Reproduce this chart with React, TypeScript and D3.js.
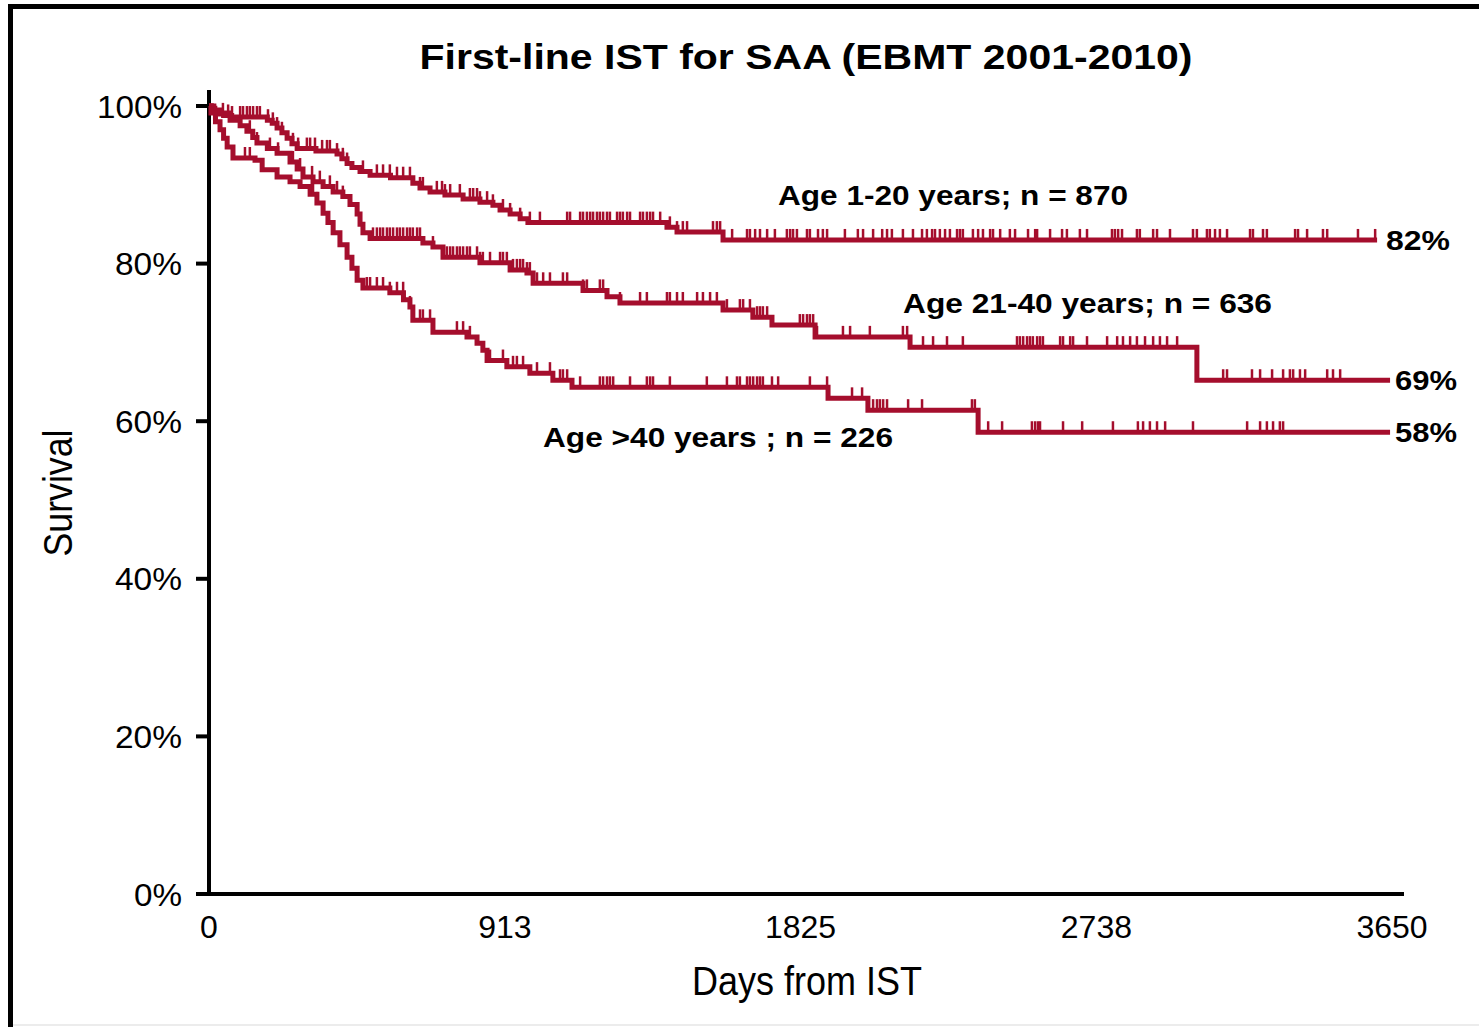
import React from "react";
import * as d3 from "d3";

const title = "First-line IST for SAA (EBMT 2001-2010)";
const xTicks = [0, 913, 1825, 2738, 3650];
const yTicks = [0, 20, 40, 60, 80, 100];

// Kaplan-Meier steps: [day, survival % after the step]
const age1to20Steps: [number, number][] = [
  [0, 100], [8, 99.7], [18, 99.4], [30, 99.0], [45, 98.8], [70, 98.6], [180, 98.2], [195, 97.8],
  [210, 97.2], [225, 96.6], [241, 95.9], [256, 95.2], [272, 94.6], [330, 94.3], [395, 93.9],
  [410, 93.3], [426, 92.7], [441, 92.2], [466, 91.7], [497, 91.2], [560, 90.9], [629, 90.2],
  [651, 89.6], [682, 89.1], [728, 88.7], [784, 88.2], [836, 87.8], [876, 87.4], [898, 86.8],
  [929, 86.3], [960, 85.7], [984, 85.2], [1413, 84.6], [1444, 84.0], [1586, 83.0],
];
const age1to20End = 3604;
const age1to20Censor = [
  43, 59, 71, 96, 105, 117, 126, 136, 148, 157, 182, 197, 210, 225, 259, 275, 302, 312, 327, 349,
  364, 373, 395, 413, 426, 475, 518, 537, 558, 580, 599, 620, 651, 660, 703, 719, 728, 744, 774,
  805, 815, 827, 836, 858, 876, 907, 929, 960, 990, 1021, 1105, 1114, 1145, 1154, 1166, 1176, 1185,
  1197, 1206, 1216, 1228, 1237, 1259, 1268, 1277, 1290, 1299, 1330, 1339, 1351, 1361, 1370, 1392,
  1422, 1444, 1462, 1475, 1555, 1567, 1577, 1614, 1660, 1669, 1685, 1700, 1722, 1746, 1783, 1793,
  1802, 1814, 1845, 1854, 1879, 1894, 1907, 1962, 2002, 2018, 2049, 2077, 2092, 2107, 2141, 2172,
  2200, 2215, 2231, 2240, 2255, 2271, 2286, 2308, 2317, 2326, 2357, 2373, 2388, 2410, 2419, 2441,
  2471, 2487, 2527, 2549, 2555, 2595, 2632, 2647, 2687, 2709, 2786, 2795, 2805, 2817, 2863, 2872,
  2913, 2925, 2965, 3036, 3048, 3079, 3088, 3104, 3119, 3141, 3212, 3221, 3252, 3264, 3351, 3360,
  3388, 3437, 3450, 3545, 3598,
];

const age21to40Steps: [number, number][] = [
  [0, 100], [15, 99.5], [34, 99.1], [65, 98.2], [96, 97.5], [117, 96.8], [135, 96.0], [148, 95.3],
  [180, 94.6], [210, 94.0], [250, 92.9], [272, 92.0], [290, 91.0], [321, 90.4], [352, 89.8],
  [383, 89.1], [413, 88.5], [435, 87.5], [457, 86.3], [466, 85.0], [475, 83.9], [497, 83.2],
  [660, 82.6], [691, 82.1], [722, 80.8], [836, 80.1], [929, 79.2], [981, 78.8], [1000, 77.5],
  [1154, 76.6], [1228, 75.8], [1268, 75.0], [1586, 74.1], [1678, 73.2], [1737, 72.2], [1870, 70.7],
  [2163, 69.4], [3048, 65.2],
];
const age21to40End = 3644;
const age21to40Censor = [
  126, 148, 188, 213, 259, 281, 318, 342, 373, 395, 413, 506, 518, 528, 537, 549, 558, 568, 580,
  589, 599, 611, 620, 629, 642, 651, 691, 722, 734, 744, 753, 765, 774, 784, 796, 805, 827, 836,
  845, 867, 898, 907, 919, 938, 950, 960, 969, 981, 990, 1012, 1031, 1052, 1092, 1105, 1154, 1166,
  1206, 1216, 1268, 1330, 1351, 1413, 1422, 1444, 1462, 1506, 1524, 1546, 1567, 1598, 1638, 1648,
  1669, 1691, 1700, 1709, 1722, 1823, 1833, 1845, 1854, 1864, 1876, 1956, 1978, 2039, 2141, 2154,
  2163, 2203, 2234, 2277, 2326, 2493, 2502, 2512, 2524, 2533, 2542, 2555, 2564, 2573, 2626, 2635,
  2657, 2666, 2709, 2771, 2802, 2820, 2842, 2863, 2888, 2913, 2934, 2956, 2987, 3129, 3141, 3218,
  3243, 3280, 3314, 3335, 3345, 3366, 3382, 3450, 3468, 3490,
];

const ageOver40Steps: [number, number][] = [
  [0, 100], [6, 99.1], [20, 98.0], [34, 97.0], [45, 95.9], [56, 94.8], [74, 93.4], [142, 93.1],
  [164, 91.9], [210, 91.0], [250, 90.4], [281, 89.8], [312, 88.8], [333, 87.7], [352, 86.4],
  [367, 85.2], [383, 83.9], [404, 82.4], [426, 80.8], [441, 79.4], [457, 77.9], [475, 76.9],
  [558, 76.3], [600, 75.4], [620, 74.5], [629, 72.8], [691, 71.3], [796, 70.7], [827, 69.9],
  [845, 69.0], [858, 67.7], [919, 66.9], [990, 66.1], [1061, 65.2], [1120, 64.3], [1910, 62.9],
  [2033, 61.4], [2373, 58.6],
];
const ageOver40End = 3644;
const ageOver40Censor = [
  111, 126, 321, 333, 487, 497, 518, 537, 558, 580, 599, 620, 651, 660, 682, 765, 784, 805, 867,
  907, 938, 950, 969, 1012, 1052, 1083, 1092, 1105, 1145, 1206, 1216, 1228, 1237, 1247, 1299, 1351,
  1361, 1370, 1422, 1536, 1598, 1629, 1638, 1660, 1669, 1679, 1691, 1700, 1709, 1737, 1756, 1854,
  1907, 1984, 2015, 2049, 2061, 2070, 2080, 2092, 2157, 2200, 2354, 2363, 2404, 2447, 2539, 2549,
  2558, 2564, 2635, 2694, 2789, 2866, 2882, 2903, 2925, 2950, 3036, 3203, 3243, 3264, 3283, 3304,
  3314,
];

const groupLabels = ["Age 1-20 years; n = 870", "Age 21-40 years; n = 636", "Age >40 years ; n = 226"];
const endLabels = ["82%", "69%", "58%"];

const W = 1479;
const H = 1027;
const RED = "#a50e2d";
const SANS = "'Liberation Sans', Arial, Helvetica, sans-serif";

const x = d3.scaleLinear().domain([0, 3650]).range([209, 1392]);
const y = d3.scaleLinear().domain([0, 100]).range([894, 106]);

function survAt(steps: [number, number][], t: number) {
  let s = steps[0][1];
  for (const [d, v] of steps) {
    if (d <= t) s = v;
    else break;
  }
  return s;
}

const line = d3
  .line<[number, number]>()
  .x((d) => x(d[0]))
  .y((d) => y(d[1]))
  .curve(d3.curveStepAfter);

const series = [
  { steps: age1to20Steps, end: age1to20End, censor: age1to20Censor },
  { steps: age21to40Steps, end: age21to40End, censor: age21to40Censor },
  { steps: ageOver40Steps, end: ageOver40End, censor: ageOver40Censor },
];

const groupLabelPos = [
  { x0: 778, x1: 1128, base: 205 },
  { x0: 903, x1: 1272, base: 313 },
  { x0: 543, x1: 893, base: 447 },
];
const endLabelPos = [
  { x0: 1386, x1: 1450, base: 250 },
  { x0: 1395, x1: 1457, base: 390 },
  { x0: 1395, x1: 1457, base: 442 },
];

export default function App() {
  return (
    <svg
      width={W}
      height={H}
      style={{ position: "absolute", left: 0, top: 0, background: "#fff" }}
      fontFamily={SANS}
    >
      <rect x={0} y={0} width={W} height={H} fill="#fff" />
      {/* frame */}
      <line x1={8} x2={W} y1={6.5} y2={6.5} stroke="#000" strokeWidth={5} />
      <line x1={10.5} x2={10.5} y1={4} y2={H} stroke="#000" strokeWidth={5} />
      <line x1={13} x2={W} y1={1025} y2={1025} stroke="#e6e6e6" strokeWidth={1.5} />

      {/* title */}
      <text x={806} y={69} textAnchor="middle" fontSize={35} fontWeight="bold" textLength={773} lengthAdjust="spacingAndGlyphs">
        {title}
      </text>

      {/* axes */}
      <line x1={209} x2={209} y1={90} y2={896} stroke="#000" strokeWidth={4} />
      <line x1={196} x2={1404} y1={894} y2={894} stroke="#000" strokeWidth={4} />
      {yTicks.map((t) => (
        <g key={"yt" + t}>
          <line x1={196} x2={209} y1={y(t)} y2={y(t)} stroke="#000" strokeWidth={4} />
          <text x={182} y={y(t)} dy="0.36em" textAnchor="end" fontSize={32}
            textLength={t === 100 ? 85 : t === 0 ? 48 : 67} lengthAdjust="spacingAndGlyphs">
            {t + "%"}
          </text>
        </g>
      ))}
      {xTicks.map((t) => (
        <text key={"xt" + t} x={x(t)} y={938} textAnchor="middle" fontSize={32}>
          {t}
        </text>
      ))}
      <text x={807} y={995} textAnchor="middle" fontSize={41} textLength={230} lengthAdjust="spacingAndGlyphs">
        Days from IST
      </text>
      <text
        transform="translate(72,493) rotate(-90)"
        textAnchor="middle"
        fontSize={41}
        textLength={127}
        lengthAdjust="spacingAndGlyphs"
      >
        Survival
      </text>

      {/* curves */}
      {series.map((s, i) => {
        const pts: [number, number][] = [...s.steps, [s.end, s.steps[s.steps.length - 1][1]]];
        return (
          <g key={"s" + i}>
            <path d={line(pts) || ""} fill="none" stroke={RED} strokeWidth={5} strokeLinejoin="miter" />
            {s.censor.map((c, j) => {
              const v = survAt(s.steps, c);
              return (
                <line
                  key={j}
                  x1={x(c)}
                  x2={x(c)}
                  y1={y(v)}
                  y2={y(v) - 11}
                  stroke={RED}
                  strokeWidth={2.5}
                />
              );
            })}
          </g>
        );
      })}

      {/* labels */}
      {groupLabels.map((l, i) => (
        <text
          key={"gl" + i}
          x={groupLabelPos[i].x0}
          y={groupLabelPos[i].base}
          fontSize={28}
          fontWeight="bold"
          textLength={groupLabelPos[i].x1 - groupLabelPos[i].x0}
          lengthAdjust="spacingAndGlyphs"
        >
          {l}
        </text>
      ))}
      {endLabels.map((l, i) => (
        <text
          key={"el" + i}
          x={endLabelPos[i].x0}
          y={endLabelPos[i].base}
          fontSize={28}
          fontWeight="bold"
          textLength={endLabelPos[i].x1 - endLabelPos[i].x0}
          lengthAdjust="spacingAndGlyphs"
        >
          {l}
        </text>
      ))}
    </svg>
  );
}
